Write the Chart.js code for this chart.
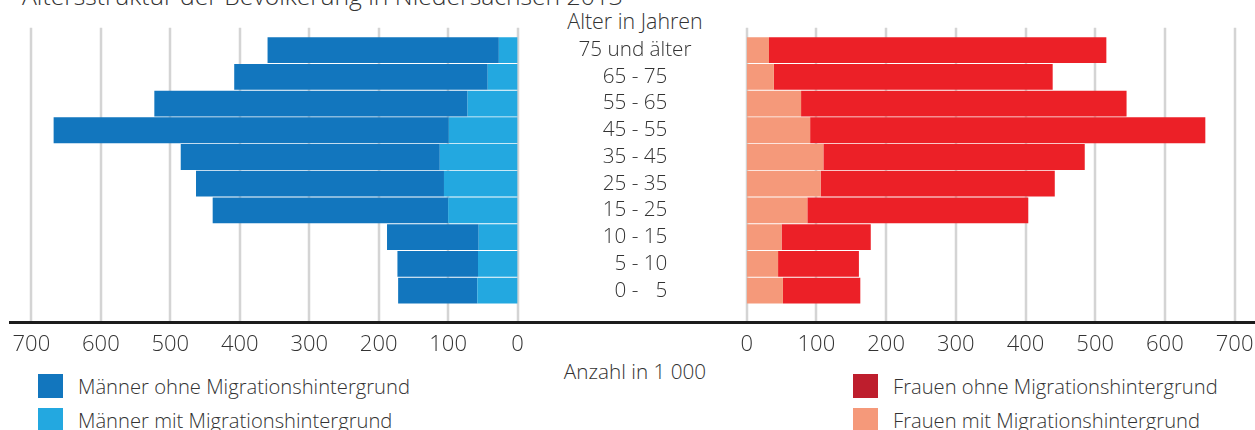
<!DOCTYPE html>
<html><head><meta charset="utf-8">
<script src="https://cdn.jsdelivr.net/npm/chart.js@4"></script>
<style>
html,body{margin:0;padding:0;background:#fff;}
body{width:1255px;height:430px;position:relative;overflow:hidden;font-family:"Open Sans",sans-serif;color:#333;font-weight:300;}
.txt{position:absolute;white-space:nowrap;}
#title{left:22px;top:-16px;font-size:24.7px;line-height:24px;}
#ageHead{left:535px;width:200px;top:9px;text-align:center;font-size:21.4px;line-height:24px;}
#unit{left:535px;width:200px;top:359px;text-align:center;font-size:20.7px;line-height:24px;}
canvas{position:absolute;top:0;}
.leg{position:absolute;font-size:20.2px;line-height:24px;white-space:nowrap;}
.leg .sw{position:absolute;width:25px;height:24px;}
.leg .lt{position:absolute;top:0;}
</style>
</head><body>
<div class="txt" id="title">Altersstruktur der Bevölkerung in Niedersachsen 2013</div>
<div class="txt" id="ageHead">Alter in Jahren</div>
<div class="txt" id="unit">Anzahl in 1 000</div>
<canvas id="left" width="720" height="360" style="left:0"></canvas>
<canvas id="right" width="535" height="360" style="left:720px"></canvas>
<div id="legends"></div>
<script>
// ---- data (in 1 000) ----
const ageLabels = ['75 und älter','65 - 75','55 - 65','45 - 55','35 - 45','25 - 35','15 - 25','10 - 15','\u20075 - 10','\u20070 - \u20075'];
const menOhne   = [333, 365, 451, 569, 373, 357, 339, 132, 116, 114];
const menMit    = [ 27,  43,  72,  99, 112, 106, 100,  56,  57,  58];
const womenOhne = [484, 400, 467, 567, 375, 336, 317, 128, 116, 111];
const womenMit  = [ 32,  39,  78,  91, 110, 106,  87,  50,  45,  52];
const axisMin = 0, axisMax = 700, axisStep = 100;
const legendLabels = ['Männer ohne Migrationshintergrund','Männer mit Migrationshintergrund','Frauen ohne Migrationshintergrund','Frauen mit Migrationshintergrund'];

const COL = {menOhne:'#1276be', menMit:'#23a8e0', womenOhne:'#ec2027', womenMit:'#f5997a', womenOhneLegend:'#be1e2d'};
const FONT = '"Open Sans", sans-serif';
const TXT = '#333333';

function decor(lineFrom){
  return {
    id:'decor',
    beforeDatasetsDraw(chart){
      const {ctx, chartArea, scales:{x}} = chart;
      ctx.save();
      ctx.strokeStyle = '#d4d4d4'; ctx.lineWidth = 2.5;
      x.ticks.forEach(t=>{
        const px = Math.round(x.getPixelForValue(t.value));
        ctx.beginPath(); ctx.moveTo(px, chartArea.top - 9); ctx.lineTo(px, chartArea.bottom + 18); ctx.stroke();
      });
      ctx.restore();
    },
    afterDatasetsDraw(chart){
      const {ctx, chartArea} = chart;
      ctx.save(); ctx.fillStyle = '#1c1c1c';
      ctx.fillRect(lineFrom, chartArea.bottom + 17, chart.width - lineFrom, 3);
      ctx.restore();
    }
  };
}

function xAxis(reverse){
  return {
    type:'linear', position:'bottom', min:axisMin, max:axisMax, reverse, stacked:true,
    grid:{display:false, drawTicks:true, tickLength:28}, border:{display:false},
    ticks:{stepSize:axisStep, padding:0, color:TXT, font:{family:FONT, size:22, weight:300}},
    afterFit(s){ s.height = 56; }
  };
}

// widest age label for centring the middle column
const AGE_SIZE = 20.7;
const mctx = document.createElement('canvas').getContext('2d');
mctx.font = '300 ' + AGE_SIZE + 'px ' + FONT;
const widest = Math.max(...ageLabels.map(l=>mctx.measureText(l).width));
const labelCenter = 635, leftZero = 517.6, leftCanvasW = 720;

const common = {
  responsive:false, animation:false, indexAxis:'y',
  plugins:{legend:{display:false}, tooltip:{enabled:false}},
};

new Chart(document.getElementById('left'), {
  type:'bar',
  data:{labels:ageLabels, datasets:[
    {label:legendLabels[1], data:menMit, backgroundColor:COL.menMit, stack:'m', barPercentage:0.965, categoryPercentage:1},
    {label:legendLabels[0], data:menOhne, backgroundColor:COL.menOhne, stack:'m', barPercentage:0.965, categoryPercentage:1}
  ]},
  options:Object.assign({}, common, {
    layout:{padding:{left:31.4, right:0, top:36.7, bottom:0}},
    scales:{
      x:xAxis(true),
      y:{type:'category', position:'right', stacked:true, offset:true,
         grid:{display:false, drawTicks:true, tickLength: labelCenter - leftZero - widest/2}, border:{display:false},
         ticks:{crossAlign:'center', padding:0, color:TXT, font:{family:FONT, size:AGE_SIZE, weight:300}, autoSkip:false},
         afterFit(s){ s.width = leftCanvasW - leftZero; }}
    }
  }),
  plugins:[decor(9)]
});

new Chart(document.getElementById('right'), {
  type:'bar',
  data:{labels:ageLabels, datasets:[
    {label:legendLabels[3], data:womenMit, backgroundColor:COL.womenMit, stack:'w', barPercentage:0.965, categoryPercentage:1},
    {label:legendLabels[2], data:womenOhne, backgroundColor:COL.womenOhne, stack:'w', barPercentage:0.965, categoryPercentage:1}
  ]},
  options:Object.assign({}, common, {
    layout:{padding:{left:26.7, right:20.4, top:36.7, bottom:0}},
    scales:{
      x:xAxis(false),
      y:{type:'category', display:false, stacked:true, offset:true}
    }
  }),
  plugins:[decor(0)]
});

// legends
const legItems = [
  {t:legendLabels[0], c:COL.menOhne, x:38, y:374},
  {t:legendLabels[1], c:COL.menMit, x:38, y:408},
  {t:legendLabels[2], c:COL.womenOhneLegend, x:853, y:374},
  {t:legendLabels[3], c:COL.womenMit, x:853, y:408}
];
const lg = document.getElementById('legends');
legItems.forEach(it=>{
  const d = document.createElement('div');
  d.className='leg'; d.style.left=it.x+'px'; d.style.top=it.y+'px';
  d.innerHTML = '<span class="sw" style="left:0;top:0;background:'+it.c+'"></span><span class="lt" style="left:40px">'+it.t+'</span>';
  lg.appendChild(d);
});
</script>
</body></html>
